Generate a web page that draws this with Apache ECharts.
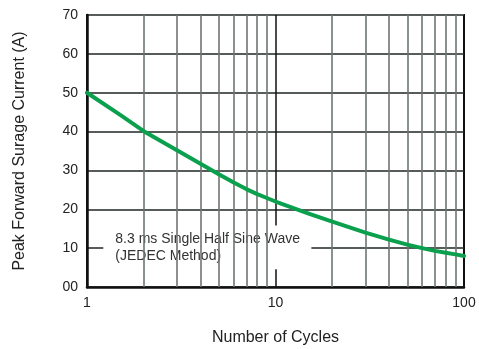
<!DOCTYPE html>
<html>
<head>
<meta charset="utf-8">
<script src="https://cdn.jsdelivr.net/npm/echarts@6/dist/echarts.min.js"></script>
<style>
  html, body { margin: 0; padding: 0; background: #fff; }
  #chart { width: 479px; height: 349px; }
</style>
</head>
<body>
<div id="chart"></div>
<script>
// surge current vs number of cycles
const cycles = [1, 1.5, 2, 3, 4, 5, 6, 7, 8, 9, 10, 15, 20, 30, 40, 50, 60, 70, 80, 90, 100];
const current = [50, 44.3, 40.1, 35.2, 31.7, 29, 26.9, 25.2, 23.9, 22.9, 22, 18.9, 16.8, 14, 12.2, 10.9, 10, 9.3, 8.8, 8.4, 8];
const minorX = [2, 3, 4, 5, 6, 7, 8, 9, 20, 30, 40, 50, 60, 70, 80, 90];
const noteLines = ['8.3 ms Single Half Sine Wave', '(JEDEC Method)'];

const chart = echarts.init(document.getElementById('chart'));
const font = 'Liberation Sans, Arial, sans-serif';

const option = {
  animation: false,
  grid: {
    left: 87, right: 15, top: 15, bottom: 62,
    outerBoundsMode: 'none',
    show: true, borderColor: '#111', borderWidth: 2
  },
  xAxis: {
    type: 'log',
    logBase: 10,
    min: 1,
    max: 100,
    name: 'Number of Cycles',
    nameLocation: 'middle',
    nameGap: 43,
    nameTextStyle: { fontFamily: font, fontSize: 16, color: '#222' },
    axisLine: { show: true, onZero: false, lineStyle: { color: '#111', width: 2.5 } },
    axisTick: { show: false },
    axisLabel: { fontFamily: font, fontSize: 14, color: '#222', margin: 9 },
    splitLine: { show: true, lineStyle: { color: '#111', width: 1.5 } }
  },
  yAxis: {
    type: 'value',
    min: 0,
    max: 70,
    interval: 10,
    name: 'Peak Forward Surage Current (A)',
    nameLocation: 'middle',
    nameGap: 59,
    nameTextStyle: { fontFamily: font, fontSize: 16, color: '#222' },
    axisLine: { show: true, lineStyle: { color: '#111', width: 2.5 } },
    axisTick: { show: false },
    axisLabel: {
      fontFamily: font, fontSize: 14, color: '#222', margin: 9,
      formatter: v => (v === 0 ? '00' : String(v))
    },
    splitLine: { show: true, lineStyle: { color: '#555c5a', width: 1.8 } }
  },
  series: [
    {
      // minor vertical grid lines
      type: 'line',
      data: [],
      silent: true,
      z: 1,
      markLine: {
        silent: true,
        symbol: 'none',
        label: { show: false },
        lineStyle: { color: '#6e7572', width: 1.6, type: 'solid' },
        data: minorX.map(v => ({ xAxis: v }))
      }
    },
    {
      // note box covering the grid
      type: 'line',
      data: [],
      silent: true,
      z: 2,
      markArea: {
        silent: true,
        itemStyle: { color: '#fff', opacity: 1 },
        label: {
          show: true,
          position: 'insideLeft',
          distance: 12,
          fontFamily: font,
          fontSize: 14,
          lineHeight: 17,
          color: '#333',
          formatter: noteLines.join('\n')
        },
        data: [[{ xAxis: 1.22, yAxis: 4.6 }, { xAxis: 15.5, yAxis: 15.8 }]]
      }
    },
    {
      type: 'line',
      data: cycles.map((c, i) => [c, current[i]]),
      showSymbol: false,
      smooth: false,
      z: 5,
      lineStyle: { color: '#0aa04e', width: 4, join: 'round', cap: 'round' }
    }
  ]
};

chart.setOption(option);
</script>
</body>
</html>
